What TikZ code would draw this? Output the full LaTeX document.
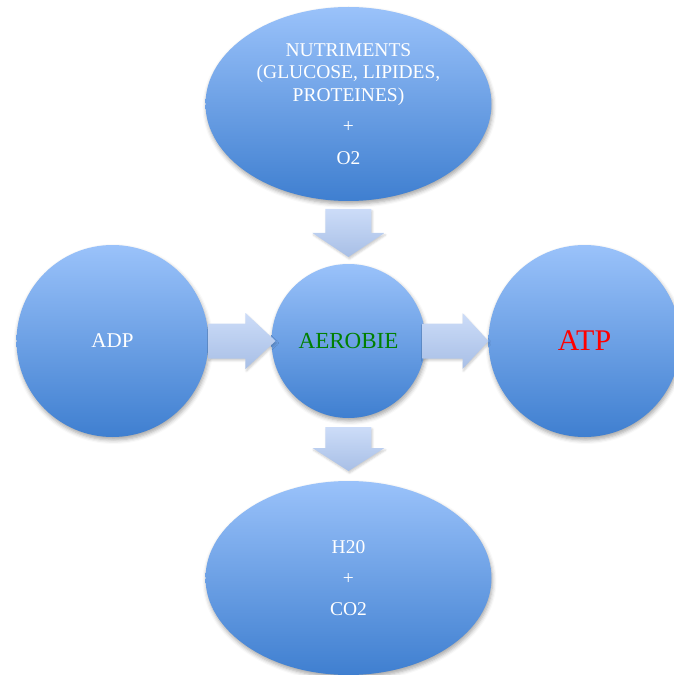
\documentclass[tikz,border=0pt]{standalone}
\usepackage{fontspec}
\setmainfont{Liberation Serif}
\usepackage{tikz}
\usetikzlibrary{shapes.geometric, positioning, shadows.blur}
\definecolor{CellTop}{HTML}{9AC2FA}
\definecolor{CellMid}{HTML}{78A8EC}
\definecolor{CellBottom}{HTML}{3F7FD0}
\definecolor{ArrowTop}{HTML}{CCDCF8}
\definecolor{ArrowBottom}{HTML}{A8BFE6}
\definecolor{DarkGreen}{HTML}{008000}

\begin{document}
\begin{tikzpicture}[
    node distance=63pt,
    cell/.style={circle, inner sep=0pt, outer sep=0pt, align=center, text=white, top color=CellTop, middle color=CellMid, bottom color=CellBottom, blur shadow={shadow xshift=1pt, shadow yshift=-3pt, shadow blur radius=4pt, shadow opacity=35}},
    bigcell/.style={cell, minimum size=192pt, font=\fontsize{21}{24}\selectfont},
    oval/.style={cell, ellipse, minimum width=286pt, minimum height=194pt, font=\fontsize{19.5}{22.5}\selectfont},
    fat/.style={top color=ArrowTop, bottom color=ArrowBottom, blur shadow={shadow xshift=1pt, shadow yshift=-2pt, shadow blur radius=2pt, shadow opacity=20}}
]
    \useasboundingbox (-348.5pt,-334pt) rectangle (324.5pt,341pt);
    \node[cell, minimum size=154pt, text=DarkGreen, font=\fontsize{23}{26}\selectfont] (aerobie) {AEROBIE};
    \node[bigcell, left=of aerobie] (adp) {ADP};
    \node[bigcell, right=of aerobie, text=red, font=\fontsize{30}{34}\selectfont] (atp) {ATP};
    \node[oval, above=of aerobie] (nutri) {NUTRIMENTS\\(GLUCOSE, LIPIDES,\\PROTEINES)\\[9pt]+\\[9pt]O2};
    \node[oval, below=of aerobie] (waste) {H20\\[8.5pt]+\\[8.5pt]CO2};
    % block arrows
    \path[fat] ([xshift=-23pt,yshift=-8pt]nutri.south) -- ([xshift=-23pt,yshift=31pt]aerobie.north) -- ([xshift=-36pt,yshift=31pt]aerobie.north) -- ([yshift=7pt]aerobie.north) -- ([xshift=36pt,yshift=31pt]aerobie.north) -- ([xshift=23pt,yshift=31pt]aerobie.north) -- ([xshift=23pt,yshift=-8pt]nutri.south) -- cycle;
    \path[fat] ([xshift=-23pt,yshift=-9pt]aerobie.south) -- ([xshift=-23pt,yshift=33pt]waste.north) -- ([xshift=-36pt,yshift=33pt]waste.north) -- ([yshift=10pt]waste.north) -- ([xshift=36pt,yshift=33pt]waste.north) -- ([xshift=23pt,yshift=33pt]waste.north) -- ([xshift=23pt,yshift=-9pt]aerobie.south) -- cycle;
    \path[fat] ([yshift=17.5pt]adp.east) -- ([xshift=-26pt,yshift=17.5pt]aerobie.west) -- ([xshift=-26pt,yshift=28pt]aerobie.west) -- ([xshift=4pt]aerobie.west) -- ([xshift=-26pt,yshift=-28pt]aerobie.west) -- ([xshift=-26pt,yshift=-17.5pt]aerobie.west) -- ([yshift=-17.5pt]adp.east) -- cycle;
    \path[fat] ([xshift=-3pt,yshift=17.5pt]aerobie.east) -- ([xshift=-26pt,yshift=17.5pt]atp.west) -- ([xshift=-26pt,yshift=28pt]atp.west) -- (atp.west) -- ([xshift=-26pt,yshift=-28pt]atp.west) -- ([xshift=-26pt,yshift=-17.5pt]atp.west) -- ([xshift=-3pt,yshift=-17.5pt]aerobie.east) -- cycle;
\end{tikzpicture}
\end{document}
